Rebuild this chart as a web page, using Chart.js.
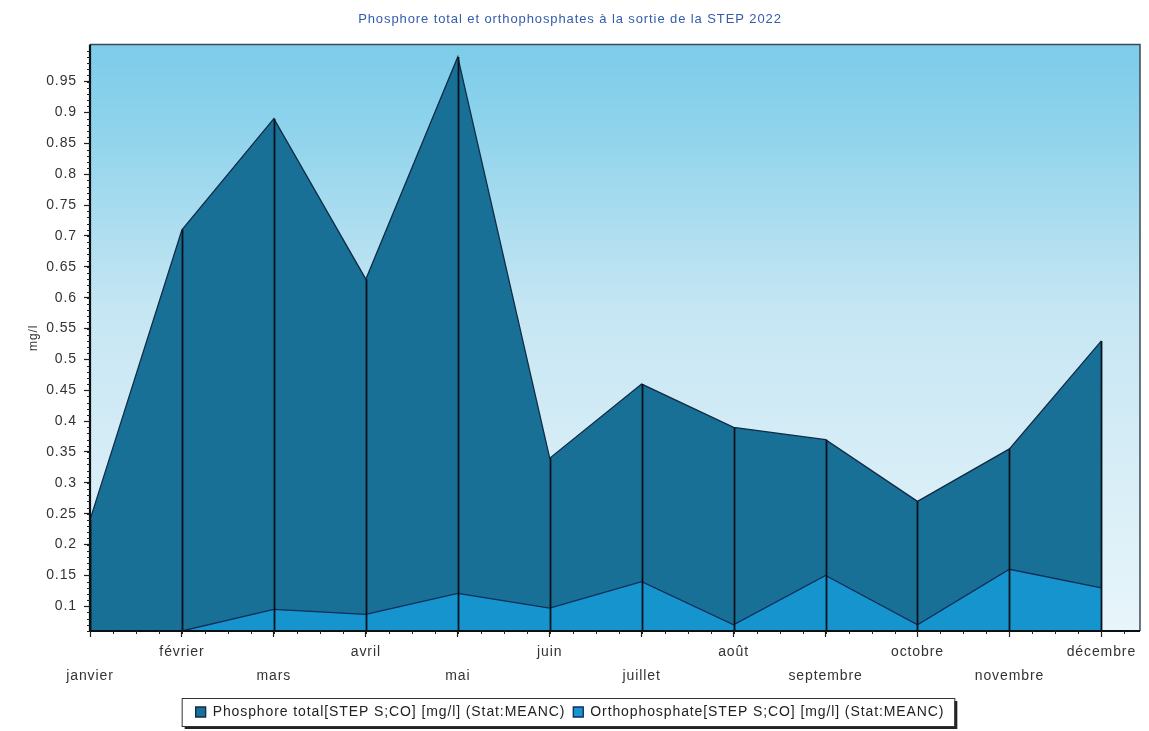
<!DOCTYPE html>
<html>
<head>
<meta charset="utf-8">
<title>Phosphore total et orthophosphates – STEP 2022</title>
<script src="https://cdn.jsdelivr.net/npm/chart.js@4/dist/chart.umd.min.js"></script>
<style>
  html, body { margin: 0; padding: 0; background: #ffffff; }
  #wrap { width: 1149px; height: 731px; }
</style>
</head>
<body>
<div id="wrap"><canvas id="c" width="1149" height="731"></canvas></div>
<script>
// Monthly means at the plant outlet (mg/l)
const months = ['janvier', 'février', 'mars', 'avril', 'mai', 'juin', 'juillet', 'août', 'septembre', 'octobre', 'novembre', 'décembre'];
const phosphoreTotal = [0.24, 0.71, 0.89, 0.63, 0.99, 0.34, 0.46, 0.39, 0.37, 0.27, 0.355, 0.53];
const orthophosphate = [0.06, 0.06, 0.095, 0.087, 0.121, 0.097, 0.14, 0.07, 0.15, 0.07, 0.16, 0.13];
const yTickValues = [0.1, 0.15, 0.2, 0.25, 0.3, 0.35, 0.4, 0.45, 0.5, 0.55, 0.6, 0.65, 0.7, 0.75, 0.8, 0.85, 0.9, 0.95];
const seriesNames = ['Phosphore total[STEP S;CO] [mg/l] (Stat:MEANC)', 'Orthophosphate[STEP S;CO] [mg/l] (Stat:MEANC)'];
const chartTitle = 'Phosphore total et orthophosphates à la sortie de la STEP 2022';

const FONT = '"Liberation Sans", Arial, sans-serif';
const SPACING = '0.9px';

const toPoints = arr => arr.map((v, i) => ({ x: i, y: v }));

// Wide, airy lettering used throughout the figure
const spacingPlugin = {
  id: 'spacing',
  beforeLayout(chart) { chart.ctx.letterSpacing = SPACING; },
  beforeDraw(chart) { chart.ctx.letterSpacing = SPACING; }
};

// Sky-like gradient behind the plot and the framed legend
const backdropPlugin = {
  id: 'backdrop',
  beforeDraw(chart) {
    const { ctx, chartArea: a } = chart;
    ctx.save();
    ctx.fillStyle = '#ffffff';
    ctx.fillRect(0, 0, chart.width, chart.height);
    const g = ctx.createLinearGradient(0, a.top, 0, a.bottom);
    g.addColorStop(0, 'rgb(124,204,234)');
    g.addColorStop(0.14, 'rgb(142,211,236)');
    g.addColorStop(0.45, 'rgb(198,230,243)');
    g.addColorStop(1, 'rgb(232,245,251)');
    ctx.fillStyle = g;
    ctx.fillRect(a.left, a.top, a.right - a.left, a.bottom - a.top);

    // legend frame with a drop shadow
    const lg = chart.legend;
    if (lg && lg.legendHitBoxes && lg.legendHitBoxes.length) {
      const hb = lg.legendHitBoxes;
      const x0 = hb[0].left - 14;
      const x1 = hb[hb.length - 1].left + hb[hb.length - 1].width + 10;
      const y0 = lg.top + 1;
      const y1 = lg.bottom - 3;
      ctx.fillStyle = '#222222';
      ctx.fillRect(x0 + 3, y0 + 3, x1 - x0, y1 - y0);
      ctx.fillStyle = '#ffffff';
      ctx.fillRect(x0, y0, x1 - x0, y1 - y0);
      ctx.strokeStyle = '#333333';
      ctx.lineWidth = 1;
      ctx.strokeRect(x0 + 0.5, y0 + 0.5, x1 - x0, y1 - y0);
    }
    ctx.restore();
  }
};

// Month dividers, axis frame and minor tick marks
const framePlugin = {
  id: 'frame',
  afterDatasetsDraw(chart) {
    const { ctx, chartArea: a, scales: { x, y } } = chart;
    ctx.save();
    ctx.strokeStyle = '#08121a';
    ctx.lineWidth = 1.8;
    phosphoreTotal.forEach((v, i) => {
      const px = Math.round(x.getPixelForValue(i)) + 0.5;
      ctx.beginPath();
      ctx.moveTo(px, y.getPixelForValue(v));
      ctx.lineTo(px, a.bottom);
      ctx.stroke();
    });

    // top and right border
    ctx.strokeStyle = '#3b4a55';
    ctx.lineWidth = 1.5;
    ctx.beginPath();
    ctx.moveTo(a.left, a.top);
    ctx.lineTo(a.right, a.top);
    ctx.lineTo(a.right, a.bottom);
    ctx.stroke();

    // axis lines
    ctx.strokeStyle = '#0a0f14';
    ctx.lineWidth = 2.2;
    ctx.beginPath();
    ctx.moveTo(a.left, a.top);
    ctx.lineTo(a.left, a.bottom);
    ctx.lineTo(a.right, a.bottom);
    ctx.stroke();

    // minor ticks
    ctx.strokeStyle = '#222222';
    ctx.lineWidth = 1;
    for (let k = 6; k <= 100; k++) {
      const v = k / 100;
      const py = Math.round(y.getPixelForValue(v)) + 0.5;
      if (py < a.top) continue;
      ctx.beginPath();
      ctx.moveTo(a.left - 3, py);
      ctx.lineTo(a.left, py);
      ctx.stroke();
    }
    for (let k = 0; k <= 11 * 4 + 1; k++) {
      const v = k / 4;
      const px = Math.round(x.getPixelForValue(v)) + 0.5;
      if (px > a.right) continue;
      ctx.beginPath();
      ctx.moveTo(px, a.bottom);
      ctx.lineTo(px, a.bottom + 3);
      ctx.stroke();
    }
    ctx.restore();
  }
};

new Chart(document.getElementById('c'), {
  type: 'line',
  data: {
    datasets: [
      {
        label: seriesNames[0],
        data: toPoints(phosphoreTotal),
        backgroundColor: 'rgb(24,112,150)',
        borderColor: 'rgb(16,44,70)',
        borderWidth: 1.3,
        fill: 'start',
        pointRadius: 0,
        tension: 0,
        order: 2
      },
      {
        label: seriesNames[1],
        data: toPoints(orthophosphate),
        backgroundColor: 'rgb(22,148,206)',
        borderColor: 'rgb(16,44,90)',
        borderWidth: 1.3,
        fill: 'start',
        pointRadius: 0,
        tension: 0,
        order: 1
      }
    ]
  },
  options: {
    responsive: false,
    animation: false,
    layout: { padding: { top: 0, right: 9, bottom: 2, left: 0 } },
    plugins: {
      tooltip: { enabled: false },
      title: {
        display: true,
        text: chartTitle,
        color: 'rgb(52,92,172)',
        font: { family: FONT, size: 13, weight: 'normal', lineHeight: 1.2 },
        padding: { top: 12, bottom: 17 }
      },
      legend: {
        position: 'bottom',
        labels: {
          sort: (a, b) => a.datasetIndex - b.datasetIndex,
          color: '#222222',
          font: { family: FONT, size: 14 },
          boxWidth: 10,
          boxHeight: 10,
          padding: 8
        }
      }
    },
    scales: {
      x: {
        type: 'linear',
        min: 0,
        max: 11.42,
        afterBuildTicks(scale) {
          scale.ticks = months.map((_, i) => ({ value: i }));
        },
        afterFit(scale) { scale.height = 66; },
        ticks: {
          autoSkip: false,
          maxRotation: 0,
          padding: 4,
          color: '#333333',
          font: { family: FONT, size: 14, lineHeight: 1.65 },
          callback: (v) => {
            const i = Math.round(v);
            return i % 2 === 0 ? ['', months[i]] : [months[i], ''];
          }
        },
        grid: { display: true, drawOnChartArea: false, tickLength: 6, tickColor: '#222222', tickWidth: 1.2 },
        border: { display: false }
      },
      y: {
        type: 'linear',
        min: 0.06,
        max: 1.01,
        afterBuildTicks(scale) {
          scale.ticks = yTickValues.map(v => ({ value: v }));
        },
        afterFit(scale) { scale.width = 90; },
        ticks: {
          autoSkip: false,
          padding: 7,
          color: '#333333',
          font: { family: FONT, size: 14 },
          callback: (v) => String(Number(v.toFixed(2)))
        },
        grid: { display: true, drawOnChartArea: false, tickLength: 6, tickColor: '#222222', tickWidth: 1.2 },
        border: { display: false },
        title: {
          display: true,
          text: 'mg/l',
          color: '#333333',
          font: { family: FONT, size: 12 },
          padding: { top: 26, bottom: 0 }
        }
      }
    }
  },
  plugins: [spacingPlugin, backdropPlugin, framePlugin]
});
</script>
</body>
</html>
